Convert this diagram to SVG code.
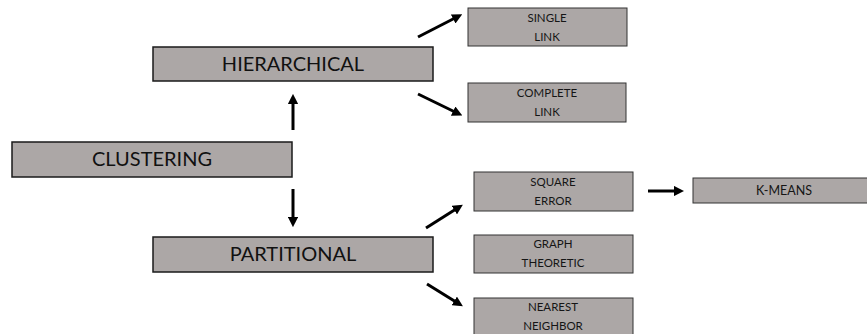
<svg xmlns="http://www.w3.org/2000/svg" width="867" height="334" viewBox="0 0 867 334">
  <style>
    .box { fill: #aca7a6; stroke: #1a1a1a; stroke-width: 1.5; }
    .small { fill: #aca7a6; stroke: #333; stroke-width: 1; }
    .big { font-family: Lato, "Open Sans", sans-serif; font-size: 20px; fill: #111; text-anchor: middle; }
    .lbl { font-family: Lato, "Open Sans", sans-serif; font-size: 11.5px; fill: #151515; text-anchor: middle; }
    .km { font-size: 12.5px; }
    .arrow { stroke: #000; stroke-width: 3; fill: none; marker-end: url(#head); }
  </style>
  <defs>
    <marker id="head" viewBox="0 0 10 10" refX="2" refY="5" markerWidth="3.4" markerHeight="3.4" orient="auto" markerUnits="strokeWidth">
      <path d="M0,0 L10,5 L0,10 z" fill="#000"/>
    </marker>
  </defs>
  <rect width="867" height="334" fill="#fff"/>

  <g id="connectors">
    <line class="arrow" x1="293" y1="130" x2="293" y2="102"/>
    <line class="arrow" x1="293" y1="189" x2="293" y2="219"/>
    <line class="arrow" x1="418" y1="37" x2="455" y2="18"/>
    <line class="arrow" x1="418" y1="94" x2="455" y2="112"/>
    <line class="arrow" x1="426" y1="228" x2="456" y2="209"/>
    <line class="arrow" x1="427" y1="284" x2="456" y2="302"/>
    <line class="arrow" x1="648" y1="191" x2="676" y2="191"/>
  </g>

  <g id="clustering">
    <rect class="box" x="12" y="142" width="280" height="35"/>
    <text class="big" x="152" y="166">CLUSTERING</text>
  </g>
  <g id="hierarchical">
    <rect class="box" x="153" y="47" width="280" height="34"/>
    <text class="big" x="293" y="71">HIERARCHICAL</text>
  </g>
  <g id="partitional">
    <rect class="box" x="153" y="237" width="280" height="35"/>
    <text class="big" x="293" y="261">PARTITIONAL</text>
  </g>
  <g id="single-link">
    <rect class="small" x="468" y="8" width="159" height="38"/>
    <text class="lbl" x="547" y="22">SINGLE</text>
    <text class="lbl" x="547" y="41">LINK</text>
  </g>
  <g id="complete-link">
    <rect class="small" x="468" y="83" width="158" height="39"/>
    <text class="lbl" x="547" y="97">COMPLETE</text>
    <text class="lbl" x="547" y="116">LINK</text>
  </g>
  <g id="square-error">
    <rect class="small" x="474" y="172" width="159" height="39"/>
    <text class="lbl" x="553" y="186">SQUARE</text>
    <text class="lbl" x="553" y="205">ERROR</text>
  </g>
  <g id="k-means">
    <rect class="small" x="693" y="178" width="180" height="25"/>
    <text class="lbl km" x="784" y="195">K-MEANS</text>
  </g>
  <g id="graph-theoretic">
    <rect class="small" x="474" y="235" width="159" height="38"/>
    <text class="lbl" x="553" y="248">GRAPH</text>
    <text class="lbl" x="553" y="267">THEORETIC</text>
  </g>
  <g id="nearest-neighbor">
    <rect class="small" x="474" y="298" width="159" height="40"/>
    <text class="lbl" x="553" y="311">NEAREST</text>
    <text class="lbl" x="553" y="330">NEIGHBOR</text>
  </g>
</svg>
